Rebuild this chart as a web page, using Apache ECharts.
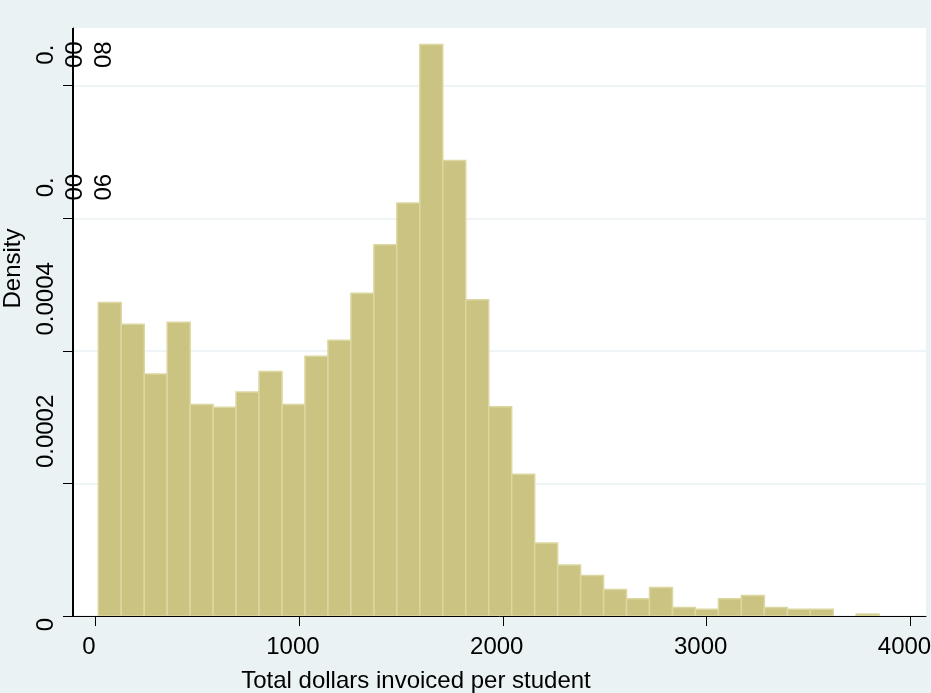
<!DOCTYPE html>
<html>
<head>
<meta charset="utf-8">
<script src="https://cdn.jsdelivr.net/npm/echarts@6/dist/echarts.min.js"></script>
<style>
html,body{margin:0;padding:0;background:#EAF2F3;}
#chart{width:931px;height:693px;}
</style>
</head>
<body>
<div id="chart"></div>
<script>
// ---- data ----
const binStart = 16;          // left edge of the first bin (dollars)
const binWidth = 112.66;      // width of each bin (dollars)
const densities = [
  0.000473, 0.000440, 0.000365, 0.000443, 0.000319, 0.000315, 0.000338, 0.000369,
  0.000319, 0.000392, 0.000416, 0.000487, 0.000560, 0.000623, 0.000862, 0.000687,
  0.000477, 0.0003155, 0.000214, 0.000110, 0.000077, 0.000061, 0.000040, 0.000026,
  0.000043, 0.000013, 0.000010, 0.000026, 0.000031, 0.000013, 0.000010, 0.000010,
  0, 0.000003
];
const xTicks = [0, 1000, 2000, 3000, 4000];
const xTickLabels = ['0', '1000', '2000', '3000', '4000'];
const yTicks = [0, 0.0002, 0.0004, 0.0006, 0.0008];
const yTickLabels = ['0', '0.0002', '0.0004', '0.0006', '0.0008'];
const yWrapped = [false, false, false, true, true];
const xTitle = 'Total dollars invoiced per student';
const yTitle = 'Density';
const xMin = -108, xMax = 4076;   // axis range
const yMin = 0, yMax = 0.000887;

// ---- build ----
const bins = densities.map((d, i) => [binStart + i * binWidth, binStart + (i + 1) * binWidth, d]);
const FONT = "'Liberation Sans', Arial, Helvetica, sans-serif";
const FS = 24;

function yLabel(value) {
  const i = yTicks.findIndex(t => Math.abs(t - value) < 1e-10);
  if (i < 0) return '';
  const s = yTickLabels[i];
  if (i === 0) return '{z|' + s + '}';
  if (yWrapped[i]) {
    const parts = [];
    for (let k = 0; k < s.length; k += 2) parts.push('{b|' + s.slice(k, k + 2) + '}');
    return parts.join('\n');
  }
  return '{a|' + s + '}';
}
function xLabel(value) {
  const i = xTicks.findIndex(t => Math.abs(t - value) < 1e-6);
  return i < 0 ? '' : xTickLabels[i] + '\u2002';
}

const chart = echarts.init(document.getElementById('chart'), null, {renderer: 'canvas'});
const txt = {fontFamily: FONT, fontSize: FS, color: '#000', lineHeight: 29};
chart.setOption({
  backgroundColor: '#EAF2F3',
  animation: false,
  grid: {
    z: 0,
    left: 73, right: 5, top: 28, bottom: 77,
    show: true, backgroundColor: '#ffffff', borderWidth: 0,
    containLabel: false, outerBoundsMode: 'none'
  },
  xAxis: {
    type: 'value',
    z: 3,
    min: xMin, max: xMax,
    axisLine: {show: true, onZero: false, lineStyle: {color: '#000', width: 1}},
    axisTick: {show: true, customValues: xTicks, length: 10, lineStyle: {color: '#000', width: 1}},
    axisLabel: {
      customValues: xTicks, formatter: xLabel, margin: 19, align: 'center',
      fontFamily: FONT, fontSize: FS, color: '#000'
    },
    splitLine: {show: false},
    name: xTitle, nameLocation: 'middle', nameGap: 53, nameMoveOverlap: false,
    nameTextStyle: {fontFamily: FONT, fontSize: FS, color: '#000', padding: [0, 167, 0, 0]}
  },
  yAxis: {
    type: 'value',
    z: 1,
    min: yMin, max: yMax,
    axisLine: {show: true, onZero: false, lineStyle: {color: '#000', width: 1}},
    axisTick: {show: true, customValues: yTicks, length: 10, lineStyle: {color: '#000', width: 1}},
    axisLabel: {
      customValues: yTicks, formatter: yLabel, rotate: 90, margin: 41,
      align: 'center', verticalAlign: 'top',
      fontFamily: FONT, fontSize: FS, color: '#000', lineHeight: 29,
      rich: {
        a: Object.assign({padding: [0, 0, 0, 104]}, txt),
        b: Object.assign({padding: [0, 0, 0, 62]}, txt),
        z: Object.assign({padding: [0, 17, 0, 0]}, txt)
      }
    },
    splitLine: {show: true, lineStyle: {color: '#EAF2F3', width: 1.5}},
    name: yTitle, nameLocation: 'middle', nameGap: 48, nameMoveOverlap: false,
    nameTextStyle: {fontFamily: FONT, fontSize: FS, color: '#000', padding: [0, 0, 0, 107]}
  },
  series: [{
    type: 'custom',
    z: 2,
    data: bins,
    encode: {x: [0, 1], y: 2},
    clip: true,
    renderItem: function (params, api) {
      const v = api.value(2);
      if (!v) return null;
      const p0 = api.coord([api.value(0), v]);
      const p1 = api.coord([api.value(1), 0]);
      return {
        type: 'rect',
        shape: {x: p0[0], y: p0[1], width: p1[0] - p0[0], height: p1[1] - p0[1]},
        style: {fill: '#CBC381', stroke: '#DCD7A0', lineWidth: 1.5}
      };
    },
    // y axis line along the left edge of the plot
    markLine: {
      silent: true, symbol: 'none', animation: false,
      label: {show: false},
      emphasis: {disabled: true},
      lineStyle: {color: '#000', width: 2, type: 'solid'},
      data: [[{coord: [xMin, yMin]}, {coord: [xMin, yMax]}]]
    }
  }]
});
</script>
</body>
</html>
